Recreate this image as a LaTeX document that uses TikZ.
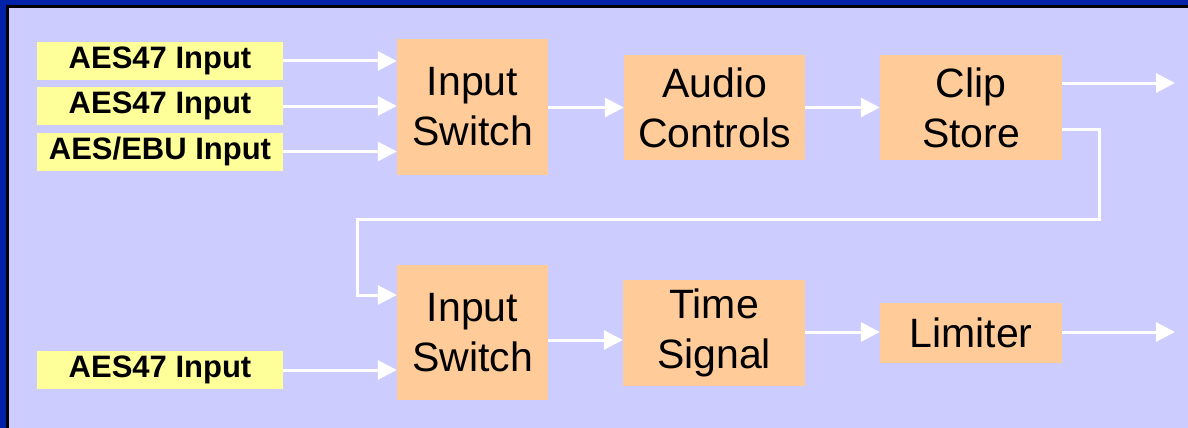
\documentclass[tikz,border=0pt]{standalone}
\usepackage{fontspec}
\setmainfont{Liberation Sans}
\usetikzlibrary{arrows.meta}

\definecolor{frameblue}{HTML}{0022A8}
\definecolor{lavender}{HTML}{CCCCFF}
\definecolor{inyellow}{HTML}{FFFF99}
\definecolor{procorange}{HTML}{FFCC99}

\tikzset{
	inbox/.style={fill=inyellow, inner sep=0pt, minimum width=246pt, minimum height=38pt,
		font=\fontsize{31}{36}\selectfont\bfseries},
	procbox/.style={fill=procorange, inner sep=0pt, align=center,
		font=\fontsize{41}{50}\selectfont},
	flow/.style={white, line width=3pt, -{Triangle[length=19pt,width=19pt]}}
}

\begin{document}
\begin{tikzpicture}[x=1pt, y=-1pt]

			\useasboundingbox (0,0) rectangle (1188,428);

			% --- CADRE ---
			\fill[frameblue] (0,0) rectangle (1188,428);
			\fill[black] (5.5,5.5) rectangle (1188,428);
			\fill[lavender] (8.5,8.5) rectangle (1188,428);

			% --- ENTREES ---
			\node[inbox] (in1) at (160,61) {AES47 Input};
			\node[inbox] (in2) at (160,106) {AES47 Input};
			\node[inbox] (in3) at (160,151.5) {AES/EBU Input};
			\node[inbox] (in4) at (160,370) {AES47 Input};

			% --- BLOCS ---
			\node[procbox, minimum width=151pt, minimum height=136pt] (sw1) at (472.5,107) {Input\\Switch};
			\node[procbox, minimum width=181pt, minimum height=105pt] (audio) at (714.5,107.5) {Audio\\Controls};
			\node[procbox, minimum width=182pt, minimum height=105pt] (clip) at (971,107.5) {Clip\\Store};
			\node[procbox, minimum width=151pt, minimum height=135pt] (sw2) at (472.5,332.5) {Input\\Switch};
			\node[procbox, minimum width=182pt, minimum height=106pt] (time) at (714,333) {Time\\Signal};
			\node[procbox, minimum width=182pt, minimum height=60pt] (lim) at (971,333) {Limiter};

			% Coordonnées
			\coordinate (out1) at (1175,83);
			\coordinate (out2) at (1175,332);
			\coordinate (fbA) at (1099,129);
			\coordinate (fbB) at (1099,219);
			\coordinate (fbC) at (357,219);
			\coordinate (fbD) at (357,295);
			\coordinate (row2) at (0,340);

			% Flèches
			\draw[flow] (in1.east) -- (in1.east -| sw1.west);
			\draw[flow] (in2.east) -- (in2.east -| sw1.west);
			\draw[flow] (in3.east) -- (in3.east -| sw1.west);
			\draw[flow] (sw1.east |- audio.west) -- (audio.west);
			\draw[flow] (audio.east) -- (clip.west);
			\draw[flow] (clip.east |- out1) -- (out1);
			\draw[flow] (clip.east |- fbA) -- (fbA) -- (fbB) -- (fbC) -- (fbD) -- (fbD -| sw2.west); % boucle
			\draw[flow] (in4.east) -- (in4.east -| sw2.west);
			\draw[flow] (sw2.east |- row2) -- (time.west |- row2);
			\draw[flow] (time.east |- out2) -- (lim.west |- out2);
			\draw[flow] (lim.east |- out2) -- (out2);
		\end{tikzpicture}
\end{document}
